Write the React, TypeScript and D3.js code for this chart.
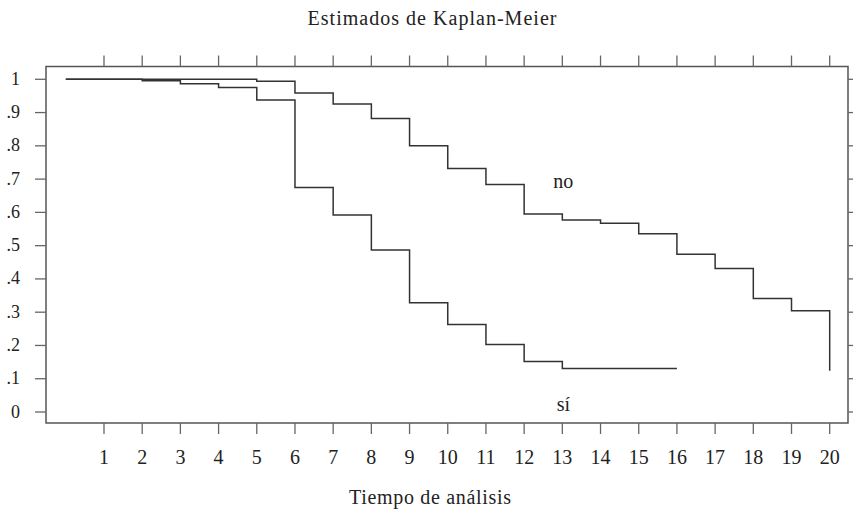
import React from "react";
import * as d3 from "d3";

const noTimes = [0, 5, 6, 7, 8, 9, 10, 11, 12, 13, 14, 15, 16, 17, 18, 19, 20];
const noSurv = [1, 0.994, 0.959, 0.926, 0.882, 0.8, 0.732, 0.684, 0.595, 0.577, 0.567, 0.536, 0.474, 0.431, 0.341, 0.304, 0.124];
const siTimes = [0, 2, 3, 4, 5, 6, 7, 8, 9, 10, 11, 12, 13, 16];
const siSurv = [1, 0.996, 0.987, 0.975, 0.938, 0.675, 0.592, 0.487, 0.328, 0.263, 0.203, 0.152, 0.131, 0.131];
const xTicks = d3.range(1, 21);
const yTicks = [0, 0.1, 0.2, 0.3, 0.4, 0.5, 0.6, 0.7, 0.8, 0.9, 1];
const yTickLabels = ["0", ".1", ".2", ".3", ".4", ".5", ".6", ".7", ".8", ".9", "1"];
const title = "Estimados de Kaplan-Meier";
const xTitle = "Tiempo de análisis";
const groupLabels = [
  { text: "no", t: 13, s: 0.704 },
  { text: "sí", t: 13, s: 0.033 },
];

const W = 853, H = 510;
const frame = { l: 46, r: 848, t: 66.5, b: 423 };
const FONT = "'Liberation Serif', 'Times New Roman', serif";

export default function App() {
  const x = d3.scaleLinear().domain([0, 20]).range([65.8, 829.7]);
  const y = d3.scaleLinear().domain([0, 1]).range([412, 79.3]);
  const line = d3
    .line<[number, number]>()
    .x((d) => x(d[0]))
    .y((d) => y(d[1]))
    .curve(d3.curveStepAfter);

  const noPts: [number, number][] = noTimes.map((t, i) => [t, noSurv[i]]);
  const siPts: [number, number][] = siTimes.map((t, i) => [t, siSurv[i]]);

  const tickColor = "#666";
  return (
    <svg
      width={W}
      height={H}
      style={{ position: "absolute", left: 0, top: 0, background: "#fff" }}
      fontFamily={FONT}
    >
      <rect x={0} y={0} width={W} height={H} fill="#fff" />
      <text x={432} y={25} textAnchor="middle" fontSize={20} fill="#222" textLength={249} lengthAdjust="spacing">
        {title}
      </text>
      {/* frame */}
      <rect
        x={frame.l}
        y={frame.t}
        width={frame.r - frame.l}
        height={frame.b - frame.t}
        fill="none"
        stroke="#555"
        strokeWidth={1.5}
      />
      {/* y ticks left & right */}
      {yTicks.map((v, i) => (
        <g key={"y" + i}>
          <line x1={35} x2={frame.l} y1={y(v)} y2={y(v)} stroke={tickColor} strokeWidth={1.3} />
          <line x1={frame.r} x2={frame.r + 11} y1={y(v)} y2={y(v)} stroke={tickColor} strokeWidth={1.3} />
          <text x={20} y={y(v) + 5.5} textAnchor="end" fontSize={18} fill="#222">
            {yTickLabels[i]}
          </text>
        </g>
      ))}
      {/* x ticks bottom & top */}
      {xTicks.map((t) => (
        <g key={"x" + t}>
          <line x1={x(t)} x2={x(t)} y1={frame.b} y2={frame.b + 11} stroke={tickColor} strokeWidth={1.3} />
          <line x1={x(t)} x2={x(t)} y1={frame.t - 11} y2={frame.t} stroke={tickColor} strokeWidth={1.3} />
          <text x={x(t)} y={464} textAnchor="middle" fontSize={20} fill="#222">
            {t}
          </text>
        </g>
      ))}
      <text x={430} y={504} textAnchor="middle" fontSize={20} fill="#222" textLength={162} lengthAdjust="spacing">
        {xTitle}
      </text>
      {/* curves */}
      <path d={line(noPts) || ""} fill="none" stroke="#333" strokeWidth={1.5} />
      <path d={line(siPts) || ""} fill="none" stroke="#333" strokeWidth={1.5} />
      {groupLabels.map((g) => (
        <text key={g.text} x={x(g.t) + 1} y={y(g.s) + 10} textAnchor="middle" fontSize={20} fill="#222">
          {g.text}
        </text>
      ))}
    </svg>
  );
}
